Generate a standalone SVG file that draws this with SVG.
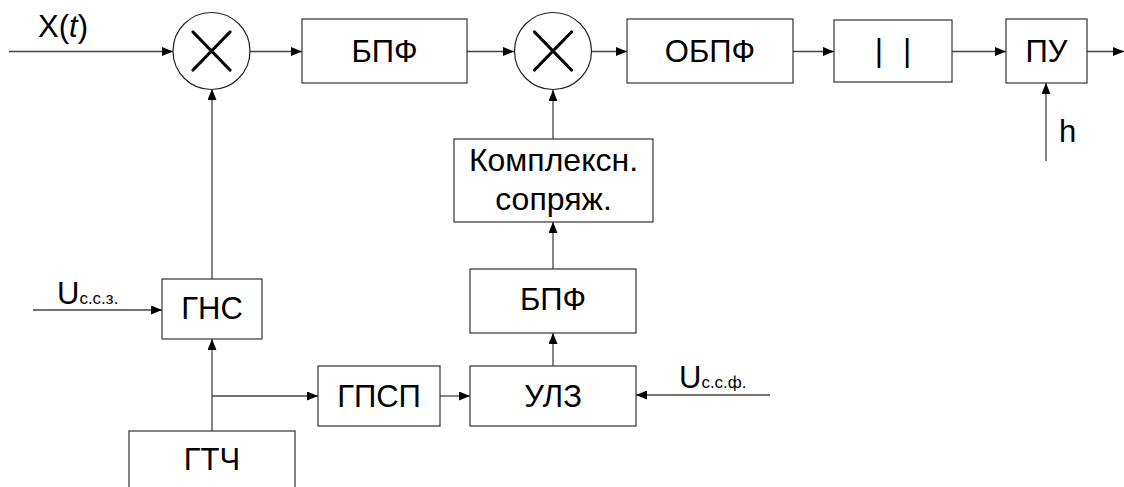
<svg xmlns="http://www.w3.org/2000/svg" width="1124" height="487" viewBox="0 0 1124 487">
<style>
.box{fill:#fff;stroke:#333;stroke-width:1.2}
.circ{fill:#fff;stroke:#222;stroke-width:1.2}
.x{stroke:#000;stroke-width:3.2;stroke-linecap:round}
.ln{fill:none;stroke:#444;stroke-width:1.3;marker-end:url(#ah)}
.t{font-family:"Liberation Sans",Arial,sans-serif;font-size:31px;fill:#000;text-anchor:middle}
.lbl{font-family:"Liberation Sans",Arial,sans-serif;font-size:31px;fill:#000}
.sub{font-size:17px}
</style>
<defs>
<marker id="ah" markerUnits="userSpaceOnUse" markerWidth="11" markerHeight="9" refX="11" refY="4.5" orient="auto">
<path d="M0,0 L11,4.5 L0,9 z" fill="#000"/>
</marker>
</defs>
<rect width="1124" height="487" fill="#fff"/>
<g id="connectors">
<path class="ln" d="M9,51.5 H173"/>
<path class="ln" d="M250,51.5 H302"/>
<path class="ln" d="M467,51.5 H514"/>
<path class="ln" d="M592,51.5 H627"/>
<path class="ln" d="M793,51.5 H834"/>
<path class="ln" d="M952,51.5 H1006"/>
<path class="ln" d="M1087,51.5 H1124"/>
<path class="ln" d="M1046,161 V83"/>
<path class="ln" d="M212,279 V89"/>
<path class="ln" d="M212,431 V339"/>
<path class="ln" d="M212,396 H318"/>
<path class="ln" d="M440,396 H470"/>
<path class="ln" d="M770,395 H636"/>
<path class="ln" d="M553,366 V333"/>
<path class="ln" d="M553,269 V222"/>
<path class="ln" d="M553,139 V90"/>
<path class="ln" d="M33,310 H162"/>
</g>
<g id="input-x">
<text class="lbl" x="38" y="37">X(<tspan font-style="italic">t</tspan>)</text>
</g>
<g id="mult1">
<circle class="circ" cx="211.5" cy="51" r="38.5"/>
<path class="x" d="M193,32 L230,70 M230,32 L193,70"/>
</g>
<g id="fft1">
<rect class="box" x="302" y="19" width="165" height="64"/>
<text class="t" x="384.5" y="62">БПФ</text>
</g>
<g id="mult2">
<circle class="circ" cx="553" cy="51" r="38.5"/>
<path class="x" d="M534.5,32 L571.5,70 M571.5,32 L534.5,70"/>
</g>
<g id="ifft">
<rect class="box" x="627" y="19" width="166" height="64"/>
<text class="t" x="710" y="62">ОБПФ</text>
</g>
<g id="abs">
<rect class="box" x="834" y="20" width="118" height="62"/>
<text class="t" x="893" y="61" style="font-size:32px" word-spacing="11">| |</text>
</g>
<g id="pu">
<rect class="box" x="1006" y="19" width="81" height="64"/>
<text class="t" x="1046.5" y="62">ПУ</text>
</g>
<g id="h-label">
<text class="lbl" x="1059" y="142">h</text>
</g>
<g id="conj">
<rect class="box" x="454" y="139" width="199" height="83"/>
<text class="t" x="553.5" y="171" style="font-size:32px">Комплексн.</text>
<text class="t" x="553.5" y="210" style="font-size:32px">сопряж.</text>
</g>
<g id="fft2">
<rect class="box" x="470" y="269" width="166" height="64"/>
<text class="t" x="553" y="310">БПФ</text>
</g>
<g id="gns">
<rect class="box" x="162" y="279" width="100" height="60"/>
<text class="t" x="212" y="319">ГНС</text>
</g>
<g id="u-ssz">
<text class="lbl" x="57" y="304">U<tspan class="sub">с.с.з.</tspan></text>
</g>
<g id="gpsp">
<rect class="box" x="318" y="366" width="122" height="60"/>
<text class="t" x="379" y="407">ГПСП</text>
</g>
<g id="ulz">
<rect class="box" x="470" y="366" width="166" height="60"/>
<text class="t" x="553" y="407">УЛЗ</text>
</g>
<g id="u-ssf">
<text class="lbl" x="679" y="388">U<tspan class="sub">с.с.ф.</tspan></text>
</g>
<g id="gtch">
<rect class="box" x="129" y="431" width="166" height="70"/>
<text class="t" x="212" y="470">ГТЧ</text>
</g>
</svg>
